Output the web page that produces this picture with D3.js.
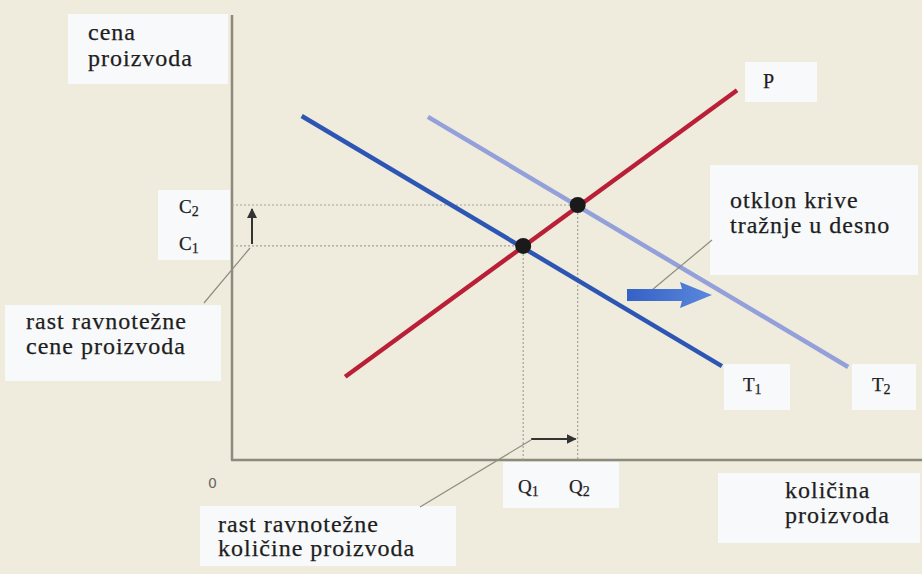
<!DOCTYPE html>
<html>
<head>
<meta charset="utf-8">
<script src="https://cdn.jsdelivr.net/npm/d3@7"></script>
<style>
  html, body { margin: 0; padding: 0; background: #f0ecdd; }
  svg { display: block; }
</style>
</head>
<body>
<svg id="chart" width="922" height="574"></svg>
<script>
// supply and demand curves, in chart units (0..100 on both axes)
var supplyP = [[16.4, 18.7], [73.2, 83.1]];
var demandT1 = [[10.1, 77.3], [71.0, 21.1]];
var demandT2 = [[28.4, 77.1], [89.3, 20.9]];

// equilibrium points
var equilibria = [
  {q: 42.2, c: 48.1},
  {q: 50.1, c: 57.3}
];

var curveNames = ["P", "T", "T"];
var priceTicks = [["C", "2"], ["C", "1"]];
var qtyTicks = [["Q", "1"], ["Q", "2"]];

var serif = "'Liberation Serif'";

var svg = d3.select("#chart"),
    width = +svg.attr("width"),
    height = +svg.attr("height");

var x = d3.scaleLinear().domain([0, 100]).range([232, 922]);
var y = d3.scaleLinear().domain([0, 100]).range([460, 15]);

svg.append("rect").attr("width", width).attr("height", height).attr("fill", "#f0ecdd");

// label boxes
function box(x0, y0, w, h) {
  svg.append("rect")
     .attr("x", x0).attr("y", y0).attr("width", w).attr("height", h)
     .attr("fill", "#f8f9fa");
}
box(68, 14, 160, 70);     // cena proizvoda
box(158, 190, 72, 70);    // C2 C1
box(5, 305, 216, 76);     // rast cene
box(710, 165, 208, 110);  // otklon
box(745, 62, 72, 40);     // P
box(724, 364, 66, 46);    // T1
box(852, 364, 64, 46);    // T2
box(503, 462, 116, 46);   // Q1 Q2
box(718, 473, 202, 70);   // kolicina
box(200, 506, 256, 60);   // rast kolicine

// axes
svg.append("line")
   .attr("x1", x(0)).attr("y1", y(100)).attr("x2", x(0)).attr("y2", y(0))
   .attr("stroke", "#8c897d").attr("stroke-width", 2.5);
svg.append("line")
   .attr("x1", x(0) - 1).attr("y1", y(0)).attr("x2", x(100)).attr("y2", y(0))
   .attr("stroke", "#8c897d").attr("stroke-width", 2.5);

// dotted guides
var guides = svg.append("g")
                .attr("stroke", "#a4a29a")
                .attr("stroke-width", 1.2)
                .attr("stroke-dasharray", "2,2");
equilibria.forEach(function(d) {
  guides.append("line")
        .attr("x1", x(0)).attr("y1", y(d.c)).attr("x2", x(d.q)).attr("y2", y(d.c));
  guides.append("line")
        .attr("x1", x(d.q)).attr("y1", y(d.c)).attr("x2", x(d.q)).attr("y2", y(0));
});

// curves
var line = d3.line().x(function(d) { return x(d[0]); }).y(function(d) { return y(d[1]); });
svg.append("path").datum(demandT2).attr("d", line)
   .attr("fill", "none").attr("stroke", "#93a0da").attr("stroke-width", 4.5);
svg.append("path").datum(demandT1).attr("d", line)
   .attr("fill", "none").attr("stroke", "#2d55b3").attr("stroke-width", 4.5);
svg.append("path").datum(supplyP).attr("d", line)
   .attr("fill", "none").attr("stroke", "#b92038").attr("stroke-width", 4.5);

svg.selectAll("circle.eq")
   .data(equilibria)
   .enter().append("circle")
   .attr("class", "eq")
   .attr("cx", function(d) { return x(d.q); })
   .attr("cy", function(d) { return y(d.c); })
   .attr("r", 8)
   .attr("fill", "#1a1a1a");

// arrowheads
var defs = svg.append("defs");
defs.append("marker")
    .attr("id", "head").attr("viewBox", "0 0 10 10")
    .attr("refX", 9).attr("refY", 5)
    .attr("markerWidth", 5).attr("markerHeight", 5)
    .attr("orient", "auto")
    .append("path").attr("d", "M0,0 L10,5 L0,10 Z").attr("fill", "#333");

var grad = defs.append("linearGradient").attr("id", "blueArrow");
grad.append("stop").attr("offset", "0%").attr("stop-color", "#3561c4");
grad.append("stop").attr("offset", "100%").attr("stop-color", "#5a88dc");

// small shift arrows
svg.append("line")
   .attr("x1", 252).attr("y1", y(equilibria[0].c) - 2)
   .attr("x2", 252).attr("y2", y(equilibria[1].c) + 4)
   .attr("stroke", "#333").attr("stroke-width", 2).attr("marker-end", "url(#head)");
svg.append("line")
   .attr("x1", x(equilibria[0].q) + 8).attr("y1", 439)
   .attr("x2", x(equilibria[1].q) - 2).attr("y2", 439)
   .attr("stroke", "#333").attr("stroke-width", 2).attr("marker-end", "url(#head)");

// leader lines
var leaders = [[250, 248, 204, 303], [531, 440, 420, 507], [652, 290, 712, 240]];
svg.selectAll("line.leader")
   .data(leaders)
   .enter().append("line")
   .attr("class", "leader")
   .attr("x1", function(d) { return d[0]; }).attr("y1", function(d) { return d[1]; })
   .attr("x2", function(d) { return d[2]; }).attr("y2", function(d) { return d[3]; })
   .attr("stroke", "#8f8c80").attr("stroke-width", 1.2);

// big shift arrow
svg.append("path")
   .attr("d", "M627,289 L682,289 L680,282 L712,295 L680,308 L682,301 L627,301 Z")
   .attr("fill", "url(#blueArrow)");

// text helpers, one <text> per line
function txt(x0, y0, size) {
  return svg.append("text").attr("x", x0).attr("y", y0)
            .style("font-family", serif).style("font-size", size + "px")
            .style("fill", "#1e1e1e").style("stroke", "#1e1e1e").style("stroke-width", 0.25);
}
function label(x0, y0, lines, gap) {
  lines.forEach(function(s, i) {
    txt(x0, y0 + i * gap, 24).style("letter-spacing", "1px").text(s);
  });
}
function subLabel(x0, y0, parts) {
  var t = txt(x0, y0, 19);
  t.append("tspan").text(parts[0]);
  t.append("tspan").attr("dy", 3).style("font-size", "14px").text(parts[1]);
}

label(88, 40, ["cena", "proizvoda"], 26);
label(26, 329, ["rast ravnotežne", "cene proizvoda"], 25);
label(730, 208, ["otklon krive", "tražnje u desno"], 25);
label(785, 498, ["količina", "proizvoda"], 25);
label(218, 532, ["rast ravnotežne", "količine proizvoda"], 24);

subLabel(179, 213, priceTicks[0]);
subLabel(179, 250, priceTicks[1]);
subLabel(518, 493, qtyTicks[0]);
subLabel(569, 493, qtyTicks[1]);

txt(763, 88, 20).text(curveNames[0]);
subLabel(743, 391, [curveNames[1], "1"]);
subLabel(872, 391, [curveNames[2], "2"]);

svg.append("text").attr("x", 208).attr("y", 488)
   .style("font-family", "'DejaVu Sans'").style("font-size", "14px")
   .style("fill", "#666").text("0");
</script>
</body>
</html>
